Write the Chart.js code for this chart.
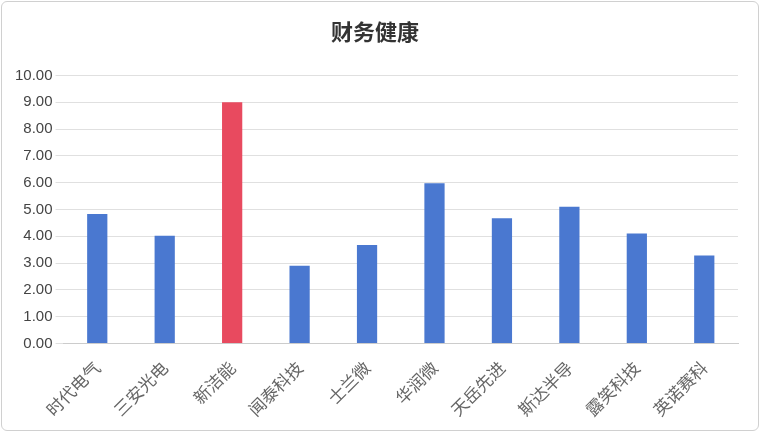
<!DOCTYPE html>
<html>
<head>
<meta charset="utf-8">
<script src="https://cdn.jsdelivr.net/npm/chart.js@4"></script>
<style>
  html, body { margin: 0; padding: 0; background: #fff; }
  #wrap { position: absolute; left: 1px; top: 1px; width: 758px; height: 430px; border: 1px solid #d0d0d0; border-radius: 6px; box-sizing: border-box; }
  canvas { display: block; }
</style>
</head>
<body>
<div id="wrap"><canvas id="chart"></canvas></div>
<script>
var categories = ["时代电气", "三安光电", "新洁能", "闻泰科技", "士兰微", "华润微", "天岳先进", "斯达半导", "露笑科技", "英诺赛科"];
var scores = [4.83, 4.02, 9.0, 2.9, 3.67, 5.98, 4.67, 5.1, 4.1, 3.28];
var highlight = "新洁能";

var colors = categories.map(function (c) { return c === highlight ? "#e84a5f" : "#4a78d0"; });

new Chart(document.getElementById("chart"), {
  type: "bar",
  data: {
    labels: categories,
    datasets: [{ data: scores, backgroundColor: colors, barPercentage: 0.3, categoryPercentage: 1 }]
  },
  options: {
    responsive: true,
    maintainAspectRatio: false,
    animation: false,
    layout: { padding: { left: 10, right: 20, top: 8, bottom: 4 } },
    plugins: {
      legend: { display: false },
      tooltip: { enabled: false },
      title: {
        display: true,
        text: "财务健康",
        color: "#333",
        font: { size: 22, weight: "bold", family: "'Noto Sans CJK SC', sans-serif" },
        padding: { top: 8, bottom: 31 }
      }
    },
    scales: {
      y: {
        min: 0, max: 10,
        ticks: { stepSize: 1, color: "#444", font: { size: 15, family: "'Liberation Sans', sans-serif" },
          callback: function (v) { return v.toFixed(2); } },
        grid: { color: "#e0e0e0" },
        border: { display: false }
      },
      x: {
        ticks: { color: "#666", maxRotation: 45, minRotation: 45, padding: 6, font: { size: 17, family: "'Noto Sans CJK SC', sans-serif" } },
        grid: { display: false },
        border: { color: "#ccc" }
      }
    }
  }
});
</script>
</body>
</html>
